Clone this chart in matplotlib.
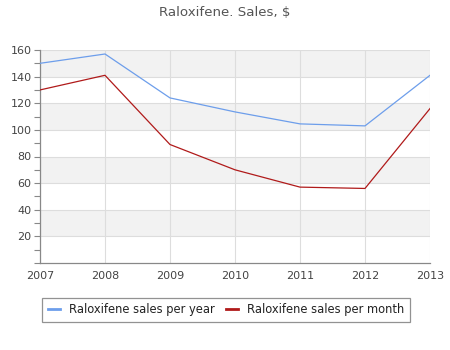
import matplotlib
matplotlib.use("Agg")
import matplotlib.pyplot as plt
from matplotlib.ticker import MultipleLocator

years = [2007, 2008, 2009, 2010, 2011, 2012, 2013]
sales_per_year = [150, 157, 124, 113.5, 104.5, 103, 141]
sales_per_month = [130, 141, 89, 70, 57, 56, 116]

title = "Raloxifene. Sales, $"
label_year = "Raloxifene sales per year"
label_month = "Raloxifene sales per month"

text_color = "#444444"
grid_color = "#dddddd"
band_color = "#f2f2f2"
axis_color = "#888888"

fig = plt.figure(figsize=(4.5, 3.5), dpi=100)
ax = fig.add_axes([40 / 450, 1 - 263 / 350, 390 / 450, 213 / 350])

ax.set_xlim(years[0], years[-1])
ax.set_ylim(0, 160)

# alternating horizontal bands, shaded from the top
for lo in range(140, -1, -40):
    ax.axhspan(lo, lo + 20, color=band_color, zorder=0, lw=0)

ax.set_yticks(range(20, 161, 20))
ax.yaxis.set_minor_locator(MultipleLocator(10))
ax.set_xticks(years)
ax.grid(True, which="major", color=grid_color, lw=0.8, zorder=1)
ax.set_axisbelow(True)

ax.plot(years, sales_per_year, color="#6d9eeb", lw=0.9, label=label_year, zorder=3)
ax.plot(years, sales_per_month, color="#b01a1a", lw=0.9, label=label_month, zorder=3)

for side in ("top", "right"):
    ax.spines[side].set_visible(False)
for side in ("left", "bottom"):
    ax.spines[side].set_color(axis_color)
    ax.spines[side].set_linewidth(0.9)

ax.tick_params(axis="y", which="both", colors=axis_color, labelcolor=text_color,
               labelsize=8, length=4, width=0.8, pad=2)
ax.tick_params(axis="x", colors=axis_color, labelcolor=text_color,
               labelsize=8, length=0, pad=6)

fig.text(0.5, 1 - 12 / 350, title, ha="center", va="center",
         fontsize=9.6, color="#555555")

leg = fig.legend(loc="center", bbox_to_anchor=(226 / 450, 1 - 310 / 350),
                 ncol=2, frameon=True, fancybox=False, fontsize=8.3,
                 handlelength=1.0, columnspacing=1.0, handletextpad=0.8,
                 borderpad=0.5)
leg.get_frame().set_edgecolor("#777777")
leg.get_frame().set_linewidth(0.9)
for t in leg.get_texts():
    t.set_color("#222222")
for h in leg.legend_handles:
    h.set_linewidth(2)

fig.savefig("out.png", dpi=100)
